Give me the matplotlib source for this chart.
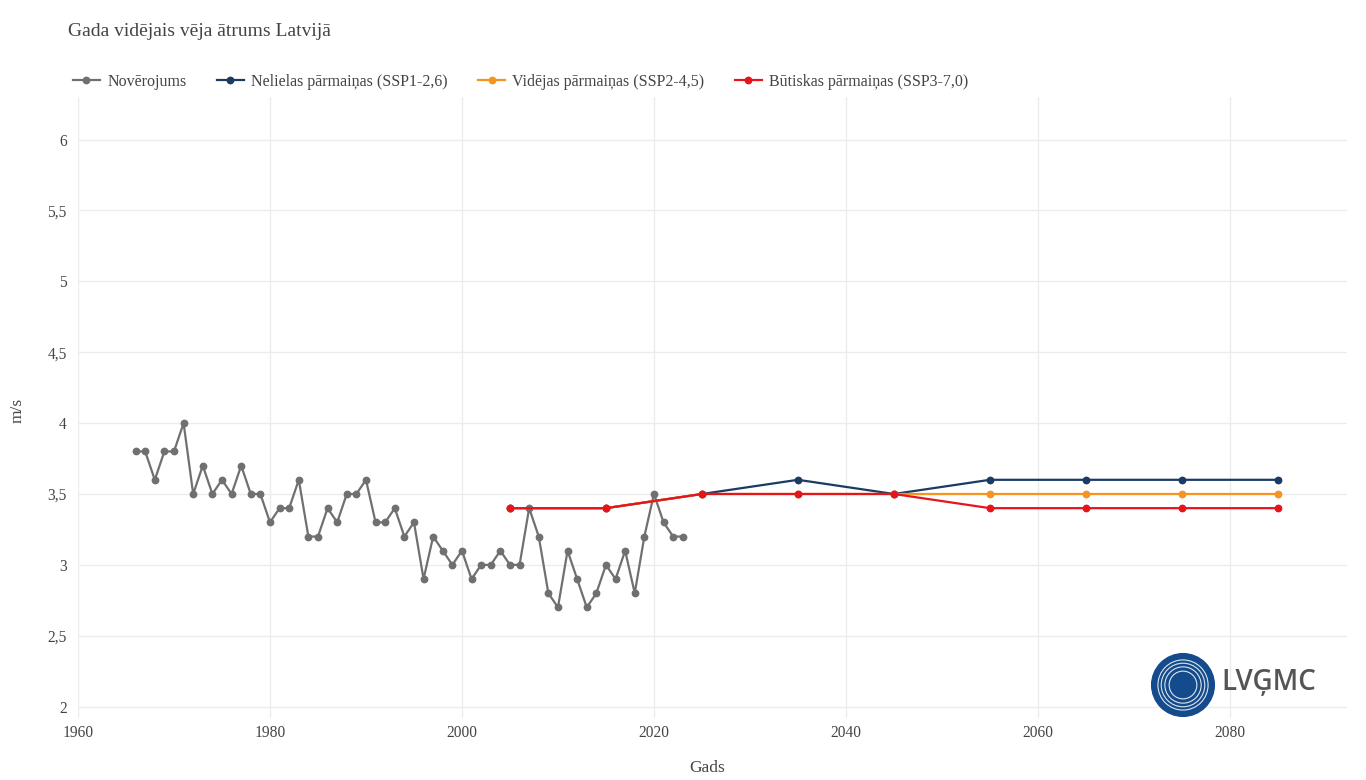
import matplotlib
matplotlib.use("Agg")
import matplotlib.pyplot as plt
from matplotlib.lines import Line2D
from matplotlib.patches import Circle
import numpy as np

plt.rcParams['font.family'] = ['Liberation Serif', 'DejaVu Serif']

obs_years = list(range(1966, 2024))
obs_values = [3.8, 3.8, 3.6, 3.8, 3.8, 4.0, 3.5, 3.7, 3.5, 3.6,
              3.5, 3.7, 3.5, 3.5, 3.3, 3.4, 3.4, 3.6, 3.2, 3.2,
              3.4, 3.3, 3.5, 3.5, 3.6, 3.3, 3.3, 3.4, 3.2, 3.3,
              2.9, 3.2, 3.1, 3.0, 3.1, 2.9, 3.0, 3.0, 3.1, 3.0,
              3.0, 3.4, 3.2, 2.8, 2.7, 3.1, 2.9, 2.7, 2.8, 3.0,
              2.9, 3.1, 2.8, 3.2, 3.5, 3.3, 3.2, 3.2]

proj_years = [2005, 2015, 2025, 2035, 2045, 2055, 2065, 2075, 2085]
ssp126 = [3.4, 3.4, 3.5, 3.6, 3.5, 3.6, 3.6, 3.6, 3.6]
ssp245 = [3.4, 3.4, 3.5, 3.5, 3.5, 3.5, 3.5, 3.5, 3.5]
ssp370 = [3.4, 3.4, 3.5, 3.5, 3.5, 3.4, 3.4, 3.4, 3.4]

labels = ["Novērojums", "Nelielas pārmaiņas (SSP1-2,6)",
          "Vidējas pārmaiņas (SSP2-4,5)", "Būtiskas pārmaiņas (SSP3-7,0)"]
colors = ["#707070", "#1b3a64", "#f7931e", "#e8141c"]

yticks = [2, 2.5, 3, 3.5, 4, 4.5, 5, 5.5, 6]
xticks = [1960, 1980, 2000, 2020, 2040, 2060, 2080]

W, H = 1366, 780
fig = plt.figure(figsize=(W / 100, H / 100), dpi=100)
fig.patch.set_facecolor("white")
ax = fig.add_axes([78 / W, 1 - 718 / H, (1347 - 78) / W, (718 - 97) / H])
ax.set_facecolor("white")

lw = 1.6
ms = 4.6
ax.plot(obs_years, obs_values, color=colors[0], lw=lw, marker="o", ms=ms, zorder=3)
ax.plot(proj_years, ssp126, color=colors[1], lw=lw, marker="o", ms=ms, zorder=4)
ax.plot(proj_years, ssp245, color=colors[2], lw=lw, marker="o", ms=ms, zorder=5)
ax.plot(proj_years, ssp370, color=colors[3], lw=lw, marker="o", ms=ms, zorder=6)

ax.set_xlim(1960, 2092.2)
ax.set_ylim(1.92, 6.30)
ax.set_xticks(xticks)
ax.set_yticks(yticks)
ax.set_yticklabels([("%g" % v).replace(".", ",") for v in yticks])
ax.grid(True, color="#ececec", lw=1)
ax.set_axisbelow(True)
for s in ax.spines.values():
    s.set_visible(False)
ax.tick_params(length=0, labelsize=11.2, colors="#444444")
ax.tick_params(axis="y", pad=8)
ax.tick_params(axis="x", pad=5)

fig.text(707 / W, 1 - 768 / H, "Gads", fontsize=12.5, color="#444444",
         va="center", ha="center")
fig.text(18 / W, 1 - 410 / H, "m/s", fontsize=12.5, color="#444444",
         va="center", ha="center", rotation=90)

fig.text(68 / W, 1 - 31 / H, "Gada vidējais vēja ātrums Latvijā", fontsize=14,
         color="#444444", va="center", ha="left")

handles = [Line2D([], [], color=c, lw=lw, marker="o", ms=ms) for c in colors]
fig.legend(handles, labels, loc="center left", bbox_to_anchor=(68 / W, 1 - 82 / H),
           ncol=4, frameon=False, fontsize=11.5, handlelength=1.7,
           handletextpad=0.45, columnspacing=1.9, labelcolor="#444444",
           borderaxespad=0, borderpad=0.3)

# logo
lax = fig.add_axes([1150 / W, 1 - 718 / H, 66 / W, 66 / H])
lax.set_xlim(-1, 1)
lax.set_ylim(-1, 1)
lax.set_aspect("equal")
lax.axis("off")
lax.add_patch(Circle((0, 0), 0.95, color="#144b8c"))
for r in [0.42, 0.55, 0.66, 0.76]:
    lax.add_patch(Circle((0, 0), r, fill=False, ec="white", lw=0.8, alpha=0.85))
fig.text(1221 / W, 1 - 682 / H, "LVĢMC", fontsize=20, color="#555555",
         family="Open Sans", fontweight="semibold", va="center", ha="left")

fig.savefig("out.png", dpi=100, facecolor="white")
